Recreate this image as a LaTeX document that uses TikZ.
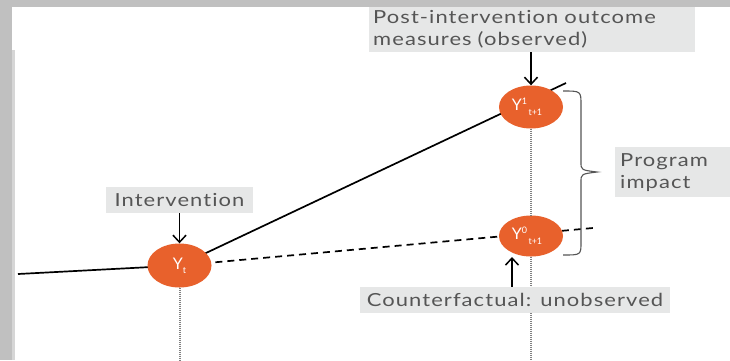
\documentclass[tikz,border=0pt]{standalone}
\usepackage{fontspec}
\setmainfont{Lato}
\newfontfamily\labelfont[FakeStretch=1.22,LetterSpace=6,Ligatures=NoCommon]{Lato}
\usetikzlibrary{shapes.geometric,arrows.meta,backgrounds}
\definecolor{orng}{HTML}{E8612C}
\definecolor{boxgray}{HTML}{E6E7E7}
\definecolor{txtgray}{HTML}{555555}
\definecolor{band}{HTML}{C0C0C0}
\definecolor{bandlight}{HTML}{D6D6D6}
\tikzset{
  outnode/.style={ellipse, fill=orng, text=white, minimum width=64pt, minimum height=44pt, inner sep=0pt, font=\fontsize{16}{16}\selectfont},
  labelbox/.style={fill=boxgray, text=txtgray, inner sep=0pt, font=\labelfont\fontsize{18}{22}\selectfont},
  pointer/.style={-{Straight Barb[length=7pt,width=13pt,line width=1.5pt]}, line width=1.7pt, black},
  trend/.style={line width=1.7pt, black},
  cfline/.style={line width=1.7pt, black, dash pattern=on 7pt off 5pt},
  vdots/.style={line width=2pt, gray, dash pattern=on 1pt off 1pt},
  bracestyle/.style={line width=1.1pt, txtgray}
}
\newcommand{\scr}[1]{{\fontsize{9}{9}\selectfont #1}}
\begin{document}
\begin{tikzpicture}[x=1pt,y=-1pt]
\useasboundingbox (0,0) rectangle (730,360);

% outcome nodes
\node[outnode] (yt) at (179.5,265.5) {Y\raisebox{-4pt}{\scr{t}}};
\node[outnode, minimum height=43pt] (y1) at (531,107) {\hspace*{-8pt}Y\raisebox{6pt}{\scr{1}}\raisebox{-5pt}{\scr{\,t+1}}};
\node[outnode, minimum height=41pt] (y0) at (531,236) {\hspace*{-8pt}Y\raisebox{6pt}{\scr{0}}\raisebox{-5pt}{\scr{\,t+1}}};

% free ends
\coordinate (start) at (18,274);
\coordinate (e1) at (566,83);
\coordinate (e0) at (593,228);
\coordinate (bot1) at (179.5,360);
\coordinate (bot2) at (531,360);

\begin{scope}[on background layer]
\fill[white] (0,0) rectangle (730,360);
\fill[band] (0,0) rectangle (730,7);
\fill[band] (0,0) rectangle (12,360);
\fill[bandlight] (12,50) rectangle (15,360);
\draw[trend] (start) -- (yt.center);
\draw[trend] (yt.center) -- (e1);
\draw[cfline] (yt.center) -- (e0);
\end{scope}
\draw[vdots] (yt.south) -- (bot1);
\draw[vdots] (y1.south) -- (y0.north);
\draw[vdots] (y0.south) -- (bot2);

% labels
\node[labelbox, anchor=north west, minimum width=326pt, minimum height=45pt, text width=318pt, align=left] (post) at (369,7) {Post-intervention outcome\\measures (observed)};
\node[labelbox, minimum width=147pt, minimum height=26pt] (interv) at (179.5,200) {Intervention};
\node[labelbox, minimum width=310pt, minimum height=26pt] (cf) at (515,300) {Counterfactual: unobserved};
\node[labelbox, anchor=north west, minimum width=115pt, minimum height=50pt, text width=105pt, align=left] (prog) at (615,147) {Program\\impact};

% pointers
\draw[pointer] (post.south -| y1) -- (y1.north);
\draw[pointer] (interv.south) -- (yt.north);
\draw[pointer] (cf.north -| 512,0) -- (512,257);

% brace
\draw[bracestyle] (563,91) .. controls (581,91) .. (581,105) -- (581,162) .. controls (581,170) .. (597,172) .. controls (581,174) .. (581,182) -- (581,242) .. controls (581,255) .. (563,255);
\end{tikzpicture}
\end{document}
